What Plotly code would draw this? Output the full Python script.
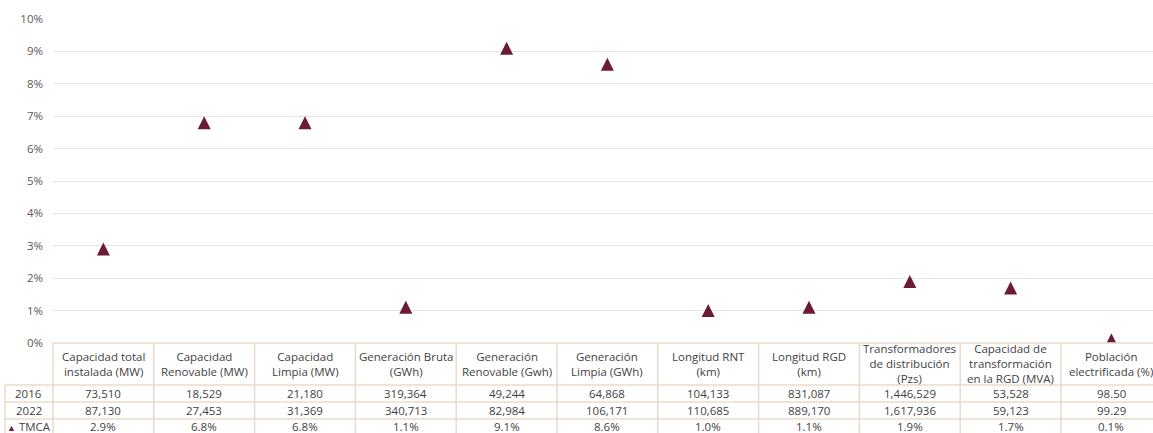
import plotly.graph_objects as go

categories = [
    "Capacidad total<br>instalada (MW)",
    "Capacidad<br>Renovable (MW)",
    "Capacidad<br>Limpia (MW)",
    "Generación Bruta<br>(GWh)",
    "Generación<br>Renovable (Gwh)",
    "Generación<br>Limpia (GWh)",
    "Longitud RNT<br>(km)",
    "Longitud RGD<br>(km)",
    "Transformadores<br>de distribución<br>(Pzs)",
    "Capacidad de<br>transformación<br>en la RGD (MVA)",
    "Población<br>electrificada (%)",
]
values_2016 = [73510, 18529, 21180, 319364, 49244, 64868, 104133, 831087, 1446529, 53528, 98.50]
values_2022 = [87130, 27453, 31369, 340713, 82984, 106171, 110685, 889170, 1617936, 59123, 99.29]
tmca = [2.9, 6.8, 6.8, 1.1, 9.1, 8.6, 1.0, 1.1, 1.9, 1.7, 0.1]
row_labels = ["2016", "2022", "TMCA"]
y_ticks = [0, 1, 2, 3, 4, 5, 6, 7, 8, 9, 10]

W, H = 1153, 433
ML, MT, MB = 53, 19, 90
PW = W - ML
PH = H - MT - MB
COLW = 100.8
MARKER = "#6b1a38"
TXT = "#3f3f3f"
BORDER = "#eadbc8"
FONT = "Open Sans"
FS = 11.5

def fmt(v):
    return f"{v:,.0f}" if v >= 1000 else f"{v:.2f}"

def py(px):  # pixel y -> paper y
    return (H - MB - px) / PH

def pxp(px):  # pixel x -> paper x
    return (px - ML) / PW

n = len(categories)
xs = list(range(n))
x_hi = -0.5 + PW / COLW

ms = 13
off = (ms / 2) / (PH / 10)

fig = go.Figure()
# empty trace to keep the primary (gridded) axis alive
fig.add_trace(go.Scatter(x=[], y=[], mode="markers", showlegend=False, hoverinfo="skip"))
fig.add_trace(go.Scatter(
    x=xs, y=tmca, mode="markers", yaxis="y2",
    marker=dict(symbol="arrow-up", size=ms, color=MARKER, line=dict(width=0)),
    showlegend=False, hoverinfo="skip",
))

LW = 1.5
shapes = []
shapes.append(dict(type="line", xref="paper", yref="paper", x0=0, x1=1.2, y0=0, y1=0,
                   line=dict(color=BORDER, width=LW)))
for yy in [385, 402, 419]:
    shapes.append(dict(type="line", xref="paper", yref="paper", x0=pxp(5), x1=1.2,
                       y0=py(yy), y1=py(yy), line=dict(color=BORDER, width=LW)))
shapes.append(dict(type="line", xref="paper", yref="paper", x0=pxp(5), x1=pxp(5),
                   y0=py(385), y1=py(440), line=dict(color=BORDER, width=LW)))
for k in range(n):
    xp = k * COLW / PW
    shapes.append(dict(type="line", xref="paper", yref="paper", x0=xp, x1=xp,
                       y0=0, y1=py(440), line=dict(color=BORDER, width=LW)))

ann = []
for i, c in enumerate(categories):
    xc = (i + 0.5) * COLW / PW
    ann.append(dict(x=xc, y=py(363.5), xref="paper", yref="paper", text=c, showarrow=False,
                    font=dict(family=FONT, size=FS, color=TXT), align="center",
                    xanchor="center", yanchor="middle"))
    for val, yy in [(fmt(values_2016[i]), 393.5), (fmt(values_2022[i]), 410.5),
                    (f"{tmca[i]:.1f}%", 426.5)]:
        ann.append(dict(x=xc, y=py(yy), xref="paper", yref="paper", text=val, showarrow=False,
                        font=dict(family=FONT, size=FS, color=TXT),
                        xanchor="center", yanchor="middle"))
for lab, yy in zip(row_labels[:2], [393.5, 410.5]):
    ann.append(dict(x=pxp(29), y=py(yy), xref="paper", yref="paper", text=lab, showarrow=False,
                    font=dict(family=FONT, size=FS, color=TXT), xanchor="center", yanchor="middle"))
ann.append(dict(x=pxp(5), y=py(426.5), xref="paper", yref="paper",
                text=f'<span style="color:{MARKER};font-size:9px">▲</span> {row_labels[2]}',
                showarrow=False, font=dict(family=FONT, size=FS, color=TXT),
                xanchor="left", yanchor="middle"))

fig.update_layout(
    width=W, height=H,
    margin=dict(l=ML, r=0, t=MT, b=MB),
    paper_bgcolor="white", plot_bgcolor="white",
    xaxis=dict(range=[-0.5, x_hi], showgrid=False, showticklabels=False, zeroline=False,
               showline=False, ticks=""),
    yaxis=dict(range=[0, 10], tickvals=y_ticks, ticktext=[f"{v}%" for v in y_ticks],
               showgrid=True, gridcolor="#e4e4e4", gridwidth=1, zeroline=False,
               showline=False, ticks="", ticklabelstandoff=9,
               tickfont=dict(family=FONT, size=FS, color="#595959")),
    yaxis2=dict(range=[-off, 10 - off], overlaying="y", visible=False),
    shapes=shapes, annotations=ann,
)
fig.write_html("out.html", config={"displayModeBar": False},
               post_script="document.body.style.margin='0';")
